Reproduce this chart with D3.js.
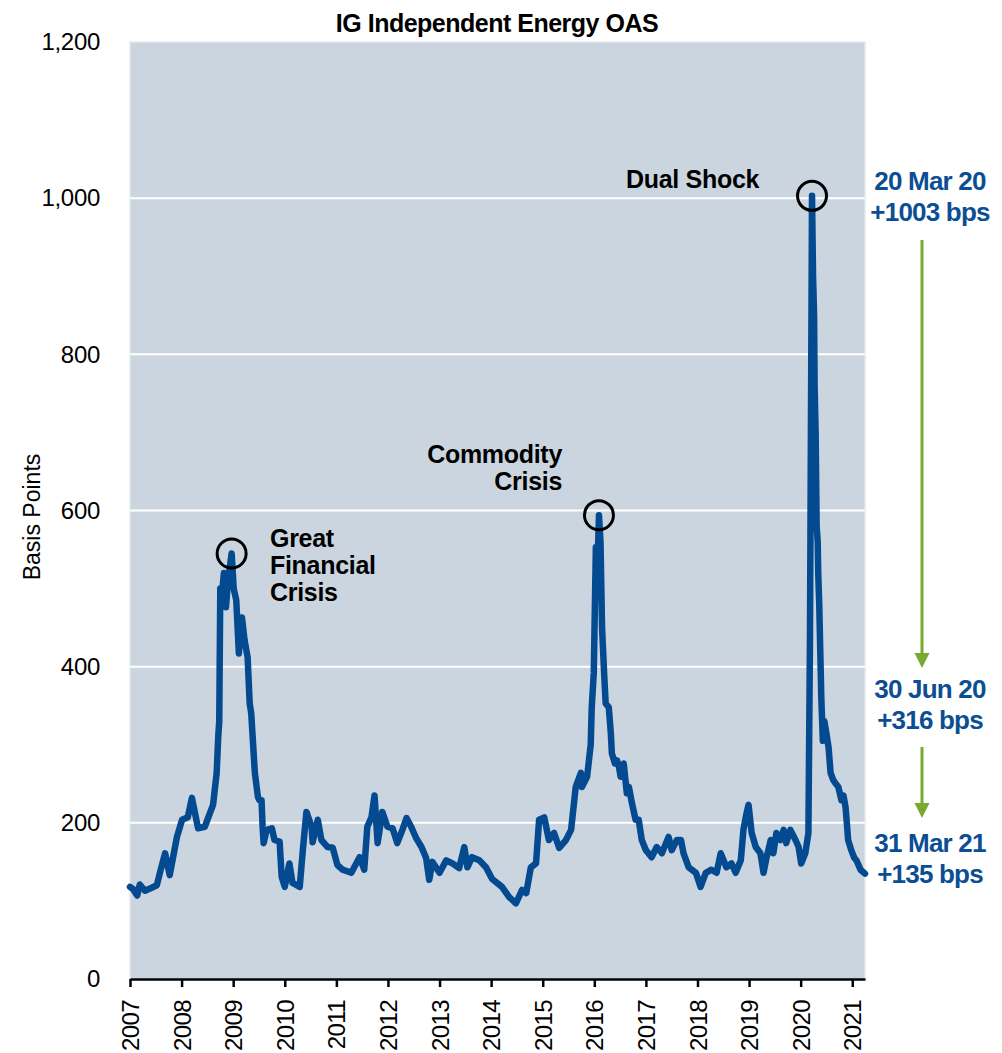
<!DOCTYPE html>
<html>
<head>
<meta charset="utf-8">
<script src="https://cdn.jsdelivr.net/npm/d3@7"></script>
<style>
  html, body { margin: 0; padding: 0; background: #ffffff; }
  svg { display: block; font-family: "Liberation Sans", Arial, sans-serif; }
</style>
</head>
<body>
<svg id="chart" width="1002" height="1053"></svg>
<script>
// IG Independent Energy option-adjusted spread, basis points (decimal year, value)
const dates = [
  2007.00, 2007.06, 2007.14, 2007.19, 2007.29, 2007.39, 2007.52, 2007.58, 2007.68, 2007.77,
  2007.91, 2008.01, 2008.12, 2008.20, 2008.32, 2008.45, 2008.61, 2008.68, 2008.71, 2008.73,
  2008.75, 2008.78, 2008.82, 2008.86, 2008.90, 2008.97, 2009.01, 2009.06, 2009.11, 2009.17,
  2009.22, 2009.28, 2009.32, 2009.35, 2009.42, 2009.48, 2009.51, 2009.55, 2009.57, 2009.59,
  2009.65, 2009.75, 2009.80, 2009.90, 2009.94, 2010.00, 2010.09, 2010.15, 2010.29, 2010.35,
  2010.42, 2010.52, 2010.54, 2010.64, 2010.71, 2010.83, 2010.93, 2011.02, 2011.12, 2011.29,
  2011.45, 2011.54, 2011.60, 2011.68, 2011.74, 2011.80, 2011.89, 2011.99, 2012.09, 2012.18,
  2012.28, 2012.36, 2012.45, 2012.55, 2012.65, 2012.74, 2012.80, 2012.86, 2013.00, 2013.13,
  2013.25, 2013.38, 2013.48, 2013.54, 2013.63, 2013.77, 2013.90, 2014.02, 2014.21, 2014.35,
  2014.48, 2014.60, 2014.68, 2014.77, 2014.87, 2014.93, 2015.03, 2015.12, 2015.22, 2015.32,
  2015.45, 2015.55, 2015.64, 2015.74, 2015.76, 2015.86, 2015.93, 2015.95, 2015.99, 2016.03,
  2016.06, 2016.09, 2016.12, 2016.15, 2016.19, 2016.22, 2016.28, 2016.32, 2016.34, 2016.40,
  2016.44, 2016.48, 2016.51, 2016.57, 2016.63, 2016.67, 2016.73, 2016.80, 2016.86, 2016.92,
  2017.00, 2017.11, 2017.21, 2017.31, 2017.44, 2017.50, 2017.60, 2017.68, 2017.73, 2017.83,
  2017.97, 2018.06, 2018.16, 2018.27, 2018.37, 2018.45, 2018.56, 2018.66, 2018.74, 2018.84,
  2018.89, 2018.95, 2018.99, 2019.05, 2019.13, 2019.22, 2019.28, 2019.34, 2019.42, 2019.47,
  2019.53, 2019.61, 2019.67, 2019.72, 2019.80, 2019.90, 2019.96, 2020.01, 2020.09, 2020.15,
  2020.18, 2020.22, 2020.24, 2020.26, 2020.27, 2020.29, 2020.31, 2020.33, 2020.34, 2020.36,
  2020.38, 2020.40, 2020.43, 2020.46, 2020.495, 2020.54, 2020.58, 2020.63, 2020.67, 2020.73,
  2020.79, 2020.83, 2020.87, 2020.89, 2020.92, 2020.98, 2021.04, 2021.08, 2021.16, 2021.247
];
const oas = [
  118, 115, 107, 121, 113, 116, 120, 136, 161, 133,
  182, 204, 207, 232, 193, 195, 223, 264, 310, 330,
  500, 490, 520, 476, 510, 545, 500, 485, 417, 463,
  434, 412, 353, 340, 264, 233, 229, 229, 195, 174,
  191, 193, 178, 176, 131, 118, 148, 123, 118, 165,
  214, 195, 175, 204, 178, 169, 168, 146, 140, 136,
  156, 140, 195, 207, 235, 174, 214, 195, 193, 174,
  191, 206, 195, 180, 169, 155, 127, 150, 136, 152,
  148, 142, 169, 143, 156, 152, 143, 128, 118, 105,
  97, 114, 110, 143, 148, 204, 207, 178, 187, 168,
  178, 191, 246, 264, 246, 259, 300, 348, 392, 553,
  520, 594, 560, 450, 392, 353, 348, 315, 289, 276,
  280, 271, 259, 276, 238, 246, 225, 204, 204, 178,
  165, 156, 169, 161, 182, 165, 178, 178, 161, 143,
  136, 118, 136, 140, 136, 161, 143, 148, 136, 152,
  191, 212, 223, 187, 169, 161, 136, 156, 178, 161,
  187, 178, 191, 174, 191, 178, 169, 148, 161, 187,
  434, 1003, 900, 850, 760, 700, 580, 560, 520, 480,
  420, 360, 305, 330, 316, 297, 264, 255, 251, 246,
  229, 235, 220, 204, 178, 165, 155, 152, 140, 135
];

const yTicks = [0, 200, 400, 600, 800, 1000, 1200];
const xTicks = [2007, 2008, 2009, 2010, 2011, 2012, 2013, 2014, 2015, 2016, 2017, 2018, 2019, 2020, 2021];

// Circled peaks
const peakDates = [2008.97, 2016.09, 2020.22];
const peakValues = [545, 594, 1003];

// Right-margin callouts
const calloutDates = ["20 Mar 20", "30 Jun 20", "31 Mar 21"];
const calloutValues = [1003, 316, 135];

const chartTitle = "IG Independent Energy OAS";
const yTitle = "Basis Points";

const plot = { left: 130, right: 865, top: 42, bottom: 979 };

// Use a condensed face for the axis numbers when one is installed
function fontInstalled(name) {
  const ctx = document.createElement("canvas").getContext("2d");
  const sample = "0123456789 abcdefghij ,.";
  ctx.font = "40px monospace";
  const a = ctx.measureText(sample).width;
  ctx.font = `40px "${name}", monospace`;
  const b = ctx.measureText(sample).width;
  return Math.abs(a - b) > 0.5;
}
const narrow = fontInstalled("Liberation Sans Narrow");
const tickFont = narrow ? "\"Liberation Sans Narrow\", sans-serif" : "\"Liberation Sans\", Arial, sans-serif";
const tickSize = narrow ? 27 : 24;

const svg = d3.select("#chart");

const x = d3.scaleLinear().domain([2007, 2021.247]).range([plot.left, plot.right]);
const y = d3.scaleLinear().domain([0, 1200]).range([plot.bottom, plot.top]);

// plot background
svg.append("rect")
  .attr("x", plot.left).attr("y", plot.top)
  .attr("width", plot.right - plot.left).attr("height", plot.bottom - plot.top)
  .attr("fill", "#cbd5df")
  .attr("stroke", "#e4e9ee").attr("stroke-width", 1.5);

// horizontal gridlines
svg.append("g")
  .selectAll("line")
  .data(yTicks.filter(d => d > 0 && d < 1200))
  .join("line")
  .attr("x1", plot.left).attr("x2", plot.right)
  .attr("y1", d => y(d)).attr("y2", d => y(d))
  .attr("stroke", "#ffffff").attr("stroke-width", 2);

// y axis labels
const yAxis = d3.axisLeft(y).tickValues(yTicks).tickFormat(d3.format(",")).tickSize(0).tickPadding(30);
const gy = svg.append("g").attr("transform", `translate(${plot.left},0)`).call(yAxis);
gy.select(".domain").remove();
gy.selectAll("text").attr("font-size", tickSize).attr("fill", "#000").attr("font-family", tickFont)
  .attr("letter-spacing", -0.3);

// x axis
const xAxis = d3.axisBottom(x).tickValues(xTicks).tickFormat(d3.format("d")).tickSizeOuter(0).tickSizeInner(8);
const gx = svg.append("g").attr("transform", `translate(0,${plot.bottom})`).call(xAxis);
gx.select(".domain").attr("stroke", "#000").attr("stroke-width", 2.5);
gx.selectAll(".tick line").attr("stroke", "#000").attr("stroke-width", 2.5);
gx.selectAll("text")
  .attr("font-size", tickSize).attr("fill", "#000")
  .attr("font-family", tickFont)
  .attr("letter-spacing", -0.6)
  .attr("text-anchor", "end")
  .attr("transform", "translate(0,21) rotate(-90)")
  .attr("x", 0).attr("y", 0).attr("dy", "0.36em");

// y axis title
svg.append("text")
  .attr("transform", `translate(40,517) rotate(-90)`)
  .attr("text-anchor", "middle")
  .attr("font-size", 23)
  .text(yTitle);

// chart title
svg.append("text")
  .attr("x", 497).attr("y", 32)
  .attr("text-anchor", "middle")
  .attr("font-size", 25).attr("font-weight", "bold")
  .attr("letter-spacing", -0.5)
  .text(chartTitle);

// spread series
const series = dates.map((d, i) => ({ t: d, v: oas[i] }));
const line = d3.line().x(d => x(d.t)).y(d => y(d.v));
svg.append("path")
  .datum(series)
  .attr("d", line)
  .attr("fill", "none")
  .attr("stroke", "#034a91")
  .attr("stroke-width", 6.5)
  .attr("stroke-linejoin", "round")
  .attr("stroke-linecap", "round");

// peak circles
svg.append("g")
  .selectAll("circle")
  .data(peakDates.map((d, i) => ({ t: d, v: peakValues[i] })))
  .join("circle")
  .attr("cx", d => x(d.t)).attr("cy", d => y(d.v))
  .attr("r", 14.5)
  .attr("fill", "none").attr("stroke", "#000").attr("stroke-width", 3);

// event captions
const captions = [
  { lines: ["Great", "Financial", "Crisis"], x: 270, y: 547, anchor: "start" },
  { lines: ["Commodity", "Crisis"], x: 562, y: 463, anchor: "end" },
  { lines: ["Dual Shock"], x: 626, y: 188, anchor: "start" }
];
captions.forEach(c => {
  const t = svg.append("text")
    .attr("x", c.x).attr("y", c.y)
    .attr("text-anchor", c.anchor)
    .attr("font-size", 25).attr("font-weight", "bold")
    .attr("letter-spacing", -0.3)
    .attr("fill", "#000");
  c.lines.forEach((l, i) => {
    t.append("tspan").attr("x", c.x).attr("dy", i === 0 ? 0 : 27).text(l);
  });
});

// right-margin callouts
const calloutY = [190, 698, 852];
const blue = "#0b4e93";
calloutDates.forEach((d, i) => {
  const t = svg.append("text")
    .attr("x", 930).attr("y", calloutY[i])
    .attr("text-anchor", "middle")
    .attr("font-size", 26).attr("font-weight", "bold")
    .attr("letter-spacing", -0.8)
    .attr("fill", blue);
  t.append("tspan").attr("x", 930).attr("dy", 0).text(d);
  t.append("tspan").attr("x", 930).attr("dy", 31).text(`+${calloutValues[i]} bps`);
});

// green arrows between callouts
const green = "#78aa32";
const arrows = [
  { y1: 240, y2: 668 },
  { y1: 747, y2: 818 }
];
arrows.forEach(a => {
  svg.append("line")
    .attr("x1", 922).attr("x2", 922)
    .attr("y1", a.y1).attr("y2", a.y2 - 12)
    .attr("stroke", green).attr("stroke-width", 3);
  svg.append("path")
    .attr("d", `M${922 - 7.5},${a.y2 - 15} L${922 + 7.5},${a.y2 - 15} L922,${a.y2} Z`)
    .attr("fill", green);
});
</script>
</body>
</html>
